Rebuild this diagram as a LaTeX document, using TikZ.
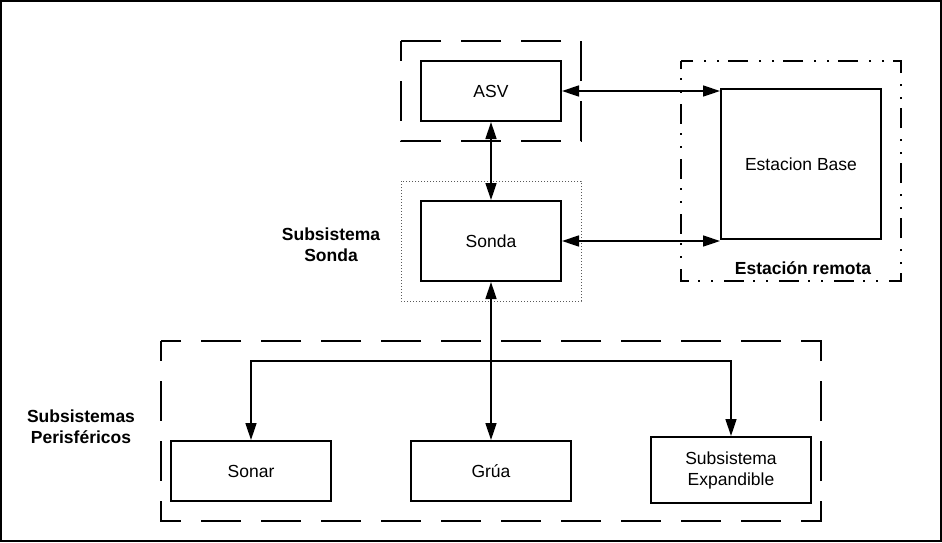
\documentclass[tikz,border=0pt]{standalone}
\usepackage{fontspec}
\setmainfont{Liberation Sans}
\usetikzlibrary{arrows.meta}

\tikzset{
    caja/.style={draw, line width=2pt, minimum width=160pt, minimum height=60pt, align=center,
        font=\fontsize{17.5}{21}\selectfont},
    grupo/.style={draw, line width=2pt, dash pattern=on 40pt off 20pt, dash phase=20pt},
    rotulo/.style={align=center, font=\fontsize{17.5}{21}\selectfont\bfseries},
    flecha/.style={line width=1.5pt}
}

\begin{document}
\begin{tikzpicture}[x=1pt,y=-1pt,>={Triangle[length=17pt,width=11pt]}]
            \useasboundingbox (0,0) rectangle (942,542);
            % frame around everything
            \draw[line width=2pt] (1,1) rectangle (941,541);

            % groups
            \draw[grupo] (401,41) rectangle (581,141);
            \draw[black!65, line width=1pt, dash pattern=on 1pt off 2pt] (401,181) rectangle (581,301);
            \draw[line width=2pt, dash pattern=on 20pt off 9pt on 2pt off 11pt on 2pt off 11pt, dash phase=12pt] (681,61) rectangle (901,281);
            \draw[grupo] (161,341) rectangle (821,521);

            % blocks
            \node[caja, minimum width=140pt] (asv) at (491,91) {ASV};
            \node[caja, minimum width=140pt, minimum height=80pt] (sonda) at (491,241) {Sonda};
            \node[caja, minimum height=150pt] (base) at (801,164) {Estacion Base};
            \node[caja] (sonar) at (251,471) {Sonar};
            \node[caja] (grua) at (491,471) {Grúa};
            \node[caja, minimum height=66pt] (expand) at (731,470) {Subsistema\\Expandible};

            % group labels
            \node[rotulo] (lremota) at (803,268) {Estación remota};
            \node[rotulo] (lsonda) at (331,245) {Subsistema\\Sonda};
            \node[rotulo] (lperif) at (81,427) {Subsistemas\\Perisféricos};

            % links
            \draw[flecha, <->] (asv.east) -- (asv.east -| base.west);
            \draw[flecha, <->] (sonda.east) -- (sonda.east -| base.west);
            \draw[flecha, <->] (asv.south) -- (sonda.north);
            \draw[flecha, <->] (sonda.south) -- (grua.north);

            % bus to the peripherals
            \coordinate (bus) at (491,361);
            \draw[flecha, ->] (bus) -| (sonar.north);
            \draw[flecha, ->] (bus) -| (expand.north);
        \end{tikzpicture}
\end{document}
